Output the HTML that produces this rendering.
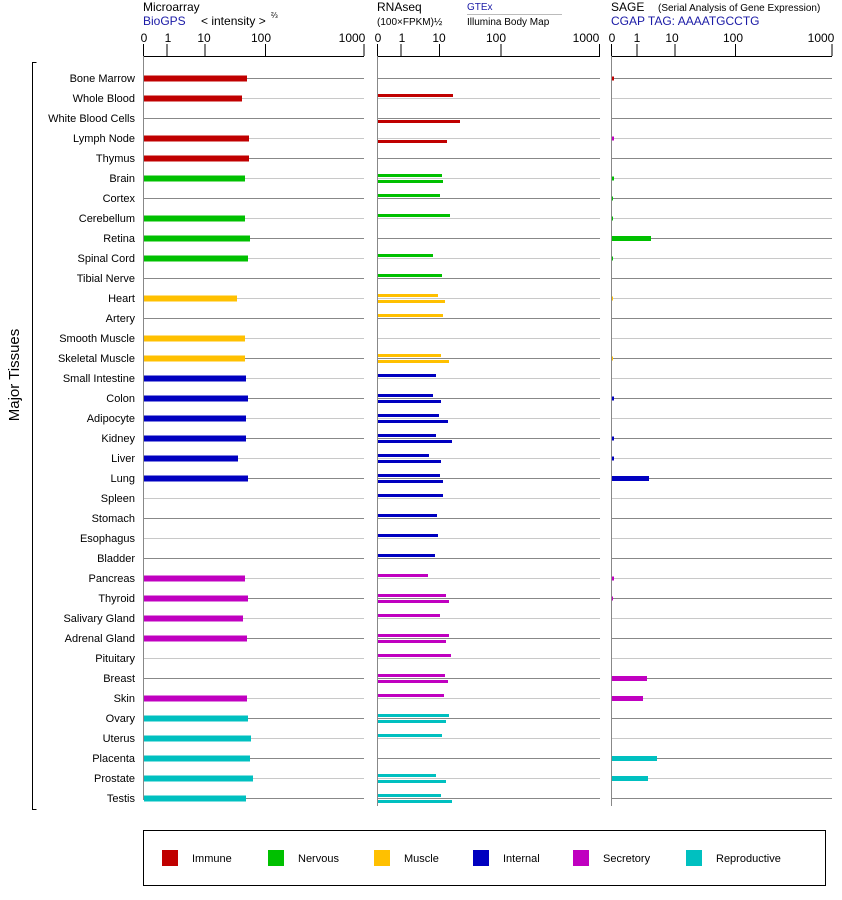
<!DOCTYPE html>
<html><head><meta charset="utf-8"><style>
html,body{margin:0;padding:0;background:#fff}
svg{display:block;font-family:"Liberation Sans",Arial,sans-serif}
</style></head><body>
<svg width="842" height="900" viewBox="0 0 842 900" xmlns="http://www.w3.org/2000/svg">
<!-- headers -->
<text x="143" y="11" font-size="12">Microarray</text>
<text x="143" y="25" font-size="12" fill="#1a1aa6">BioGPS</text>
<text x="201" y="25" font-size="12">&lt; intensity &gt;</text>
<text x="271" y="18" font-size="8">⅔</text>
<text x="377" y="11" font-size="12">RNAseq</text>
<text x="377" y="25" font-size="10">(100×FPKM)½</text>
<text x="467" y="10" font-size="10" fill="#1a1aa6">GTEx</text>
<line x1="467" y1="14.5" x2="562" y2="14.5" stroke="#bbb"/>
<text x="467" y="25" font-size="10">Illumina Body Map</text>
<text x="611" y="11" font-size="12">SAGE</text>
<text x="658" y="11" font-size="10">(Serial Analysis of Gene Expression)</text>
<text x="611" y="25" font-size="12" fill="#1a1aa6">CGAP TAG: AAAATGCCTG</text>

<!-- tick labels -->
<g font-size="12" text-anchor="middle">
<text x="144" y="42">0</text><text x="168" y="42">1</text><text x="204" y="42">10</text><text x="261" y="42">100</text><text x="352" y="42">1000</text>
<text x="378" y="42">0</text><text x="402" y="42">1</text><text x="439" y="42">10</text><text x="496" y="42">100</text><text x="586" y="42">1000</text>
<text x="612" y="42">0</text><text x="637" y="42">1</text><text x="672" y="42">10</text><text x="733" y="42">100</text><text x="821" y="42">1000</text>
</g>
<g stroke="#000" stroke-width="1">
<line x1="143.5" y1="44" x2="143.5" y2="56"/><line x1="167" y1="44" x2="167" y2="56"/><line x1="205" y1="44" x2="205" y2="56"/><line x1="265.5" y1="44" x2="265.5" y2="56"/><line x1="364" y1="44" x2="364" y2="56"/>
<line x1="143" y1="56.5" x2="364" y2="56.5"/>
<line x1="377.5" y1="44" x2="377.5" y2="56"/><line x1="401" y1="44" x2="401" y2="56"/><line x1="439.5" y1="44" x2="439.5" y2="56"/><line x1="501" y1="44" x2="501" y2="56"/><line x1="599.5" y1="44" x2="599.5" y2="56"/>
<line x1="377" y1="56.5" x2="600" y2="56.5"/>
<line x1="611.5" y1="44" x2="611.5" y2="56"/><line x1="637" y1="44" x2="637" y2="56"/><line x1="675" y1="44" x2="675" y2="56"/><line x1="735.5" y1="44" x2="735.5" y2="56"/><line x1="832" y1="44" x2="832" y2="56"/>
<line x1="611" y1="56.5" x2="832" y2="56.5"/>
</g>
<!-- vertical panel lines -->
<g stroke="#888">
<line x1="143.5" y1="56" x2="143.5" y2="800"/>
<line x1="377.5" y1="56" x2="377.5" y2="806"/>
<line x1="611.5" y1="56" x2="611.5" y2="806"/>
</g>

<!-- row grid lines: even dark, odd light -->
<g id="grid">
<g stroke="#888">
<path d="M144 78.5H364M378 78.5H600M612 78.5H832
M144 118.5H364M378 118.5H600M612 118.5H832
M144 158.5H364M378 158.5H600M612 158.5H832
M144 198.5H364M378 198.5H600M612 198.5H832
M144 238.5H364M378 238.5H600M612 238.5H832
M144 278.5H364M378 278.5H600M612 278.5H832
M144 318.5H364M378 318.5H600M612 318.5H832
M144 358.5H364M378 358.5H600M612 358.5H832
M144 398.5H364M378 398.5H600M612 398.5H832
M144 438.5H364M378 438.5H600M612 438.5H832
M144 478.5H364M378 478.5H600M612 478.5H832
M144 518.5H364M378 518.5H600M612 518.5H832
M144 558.5H364M378 558.5H600M612 558.5H832
M144 598.5H364M378 598.5H600M612 598.5H832
M144 638.5H364M378 638.5H600M612 638.5H832
M144 678.5H364M378 678.5H600M612 678.5H832
M144 718.5H364M378 718.5H600M612 718.5H832
M144 758.5H364M378 758.5H600M612 758.5H832
M144 798.5H364M378 798.5H600M612 798.5H832"/>
</g>
<g stroke="#c8c8c8">
<path d="M144 98.5H364M378 98.5H600M612 98.5H832
M144 138.5H364M378 138.5H600M612 138.5H832
M144 178.5H364M378 178.5H600M612 178.5H832
M144 218.5H364M378 218.5H600M612 218.5H832
M144 258.5H364M378 258.5H600M612 258.5H832
M144 298.5H364M378 298.5H600M612 298.5H832
M144 338.5H364M378 338.5H600M612 338.5H832
M144 378.5H364M378 378.5H600M612 378.5H832
M144 418.5H364M378 418.5H600M612 418.5H832
M144 458.5H364M378 458.5H600M612 458.5H832
M144 498.5H364M378 498.5H600M612 498.5H832
M144 538.5H364M378 538.5H600M612 538.5H832
M144 578.5H364M378 578.5H600M612 578.5H832
M144 618.5H364M378 618.5H600M612 618.5H832
M144 658.5H364M378 658.5H600M612 658.5H832
M144 698.5H364M378 698.5H600M612 698.5H832
M144 738.5H364M378 738.5H600M612 738.5H832
M144 778.5H364M378 778.5H600M612 778.5H832"/>
</g>
</g>

<!-- row labels -->
<g font-size="11" text-anchor="end">
<text x="135" y="82">Bone Marrow</text>
<text x="135" y="102">Whole Blood</text>
<text x="135" y="122">White Blood Cells</text>
<text x="135" y="142">Lymph Node</text>
<text x="135" y="162">Thymus</text>
<text x="135" y="182">Brain</text>
<text x="135" y="202">Cortex</text>
<text x="135" y="222">Cerebellum</text>
<text x="135" y="242">Retina</text>
<text x="135" y="262">Spinal Cord</text>
<text x="135" y="282">Tibial Nerve</text>
<text x="135" y="302">Heart</text>
<text x="135" y="322">Artery</text>
<text x="135" y="342">Smooth Muscle</text>
<text x="135" y="362">Skeletal Muscle</text>
<text x="135" y="382">Small Intestine</text>
<text x="135" y="402">Colon</text>
<text x="135" y="422">Adipocyte</text>
<text x="135" y="442">Kidney</text>
<text x="135" y="462">Liver</text>
<text x="135" y="482">Lung</text>
<text x="135" y="502">Spleen</text>
<text x="135" y="522">Stomach</text>
<text x="135" y="542">Esophagus</text>
<text x="135" y="562">Bladder</text>
<text x="135" y="582">Pancreas</text>
<text x="135" y="602">Thyroid</text>
<text x="135" y="622">Salivary Gland</text>
<text x="135" y="642">Adrenal Gland</text>
<text x="135" y="662">Pituitary</text>
<text x="135" y="682">Breast</text>
<text x="135" y="702">Skin</text>
<text x="135" y="722">Ovary</text>
<text x="135" y="742">Uterus</text>
<text x="135" y="762">Placenta</text>
<text x="135" y="782">Prostate</text>
<text x="135" y="802">Testis</text>
</g>

<!-- bracket + axis title -->
<path d="M36.5 62.5H32.5V809.5H36.5" fill="none" stroke="#000"/>
<text transform="translate(19,375) rotate(-90)" font-size="15" text-anchor="middle">Major Tissues</text>

<!-- microarray bars -->
<g>
<rect x="144" y="75.5" width="103" height="6" fill="#c00000"/>
<rect x="144" y="95.5" width="98" height="6" fill="#c00000"/>
<rect x="144" y="135.5" width="105" height="6" fill="#c00000"/>
<rect x="144" y="155.5" width="105" height="6" fill="#c00000"/>
<rect x="144" y="175.5" width="101" height="6" fill="#00c000"/>
<rect x="144" y="215.5" width="101" height="6" fill="#00c000"/>
<rect x="144" y="235.5" width="106" height="6" fill="#00c000"/>
<rect x="144" y="255.5" width="104" height="6" fill="#00c000"/>
<rect x="144" y="295.5" width="93" height="6" fill="#ffc000"/>
<rect x="144" y="335.5" width="101" height="6" fill="#ffc000"/>
<rect x="144" y="355.5" width="101" height="6" fill="#ffc000"/>
<rect x="144" y="375.5" width="102" height="6" fill="#0000c0"/>
<rect x="144" y="395.5" width="104" height="6" fill="#0000c0"/>
<rect x="144" y="415.5" width="102" height="6" fill="#0000c0"/>
<rect x="144" y="435.5" width="102" height="6" fill="#0000c0"/>
<rect x="144" y="455.5" width="94" height="6" fill="#0000c0"/>
<rect x="144" y="475.5" width="104" height="6" fill="#0000c0"/>
<rect x="144" y="575.5" width="101" height="6" fill="#c000c0"/>
<rect x="144" y="595.5" width="104" height="6" fill="#c000c0"/>
<rect x="144" y="615.5" width="99" height="6" fill="#c000c0"/>
<rect x="144" y="635.5" width="103" height="6" fill="#c000c0"/>
<rect x="144" y="695.5" width="103" height="6" fill="#c000c0"/>
<rect x="144" y="715.5" width="104" height="6" fill="#00c0c0"/>
<rect x="144" y="735.5" width="107" height="6" fill="#00c0c0"/>
<rect x="144" y="755.5" width="106" height="6" fill="#00c0c0"/>
<rect x="144" y="775.5" width="109" height="6" fill="#00c0c0"/>
<rect x="144" y="795.5" width="102" height="6" fill="#00c0c0"/>
</g>

<!-- RNAseq bars -->
<g>
<rect x="378" y="94" width="75" height="3" fill="#c00000"/>
<rect x="378" y="120" width="82" height="3" fill="#c00000"/>
<rect x="378" y="140" width="69" height="3" fill="#c00000"/>
<rect x="378" y="174" width="64" height="3" fill="#00c000"/>
<rect x="378" y="180" width="65" height="3" fill="#00c000"/>
<rect x="378" y="194" width="62" height="3" fill="#00c000"/>
<rect x="378" y="214" width="72" height="3" fill="#00c000"/>
<rect x="378" y="254" width="55" height="3" fill="#00c000"/>
<rect x="378" y="274" width="64" height="3" fill="#00c000"/>
<rect x="378" y="294" width="60" height="3" fill="#ffc000"/>
<rect x="378" y="300" width="67" height="3" fill="#ffc000"/>
<rect x="378" y="314" width="65" height="3" fill="#ffc000"/>
<rect x="378" y="354" width="63" height="3" fill="#ffc000"/>
<rect x="378" y="360" width="71" height="3" fill="#ffc000"/>
<rect x="378" y="374" width="58" height="3" fill="#0000c0"/>
<rect x="378" y="394" width="55" height="3" fill="#0000c0"/>
<rect x="378" y="400" width="63" height="3" fill="#0000c0"/>
<rect x="378" y="414" width="61" height="3" fill="#0000c0"/>
<rect x="378" y="420" width="70" height="3" fill="#0000c0"/>
<rect x="378" y="434" width="58" height="3" fill="#0000c0"/>
<rect x="378" y="440" width="74" height="3" fill="#0000c0"/>
<rect x="378" y="454" width="51" height="3" fill="#0000c0"/>
<rect x="378" y="460" width="63" height="3" fill="#0000c0"/>
<rect x="378" y="474" width="62" height="3" fill="#0000c0"/>
<rect x="378" y="480" width="65" height="3" fill="#0000c0"/>
<rect x="378" y="494" width="65" height="3" fill="#0000c0"/>
<rect x="378" y="514" width="59" height="3" fill="#0000c0"/>
<rect x="378" y="534" width="60" height="3" fill="#0000c0"/>
<rect x="378" y="554" width="57" height="3" fill="#0000c0"/>
<rect x="378" y="574" width="50" height="3" fill="#c000c0"/>
<rect x="378" y="594" width="68" height="3" fill="#c000c0"/>
<rect x="378" y="600" width="71" height="3" fill="#c000c0"/>
<rect x="378" y="614" width="62" height="3" fill="#c000c0"/>
<rect x="378" y="634" width="71" height="3" fill="#c000c0"/>
<rect x="378" y="640" width="68" height="3" fill="#c000c0"/>
<rect x="378" y="654" width="73" height="3" fill="#c000c0"/>
<rect x="378" y="674" width="67" height="3" fill="#c000c0"/>
<rect x="378" y="680" width="70" height="3" fill="#c000c0"/>
<rect x="378" y="694" width="66" height="3" fill="#c000c0"/>
<rect x="378" y="714" width="71" height="3" fill="#00c0c0"/>
<rect x="378" y="720" width="68" height="3" fill="#00c0c0"/>
<rect x="378" y="734" width="64" height="3" fill="#00c0c0"/>
<rect x="378" y="774" width="58" height="3" fill="#00c0c0"/>
<rect x="378" y="780" width="68" height="3" fill="#00c0c0"/>
<rect x="378" y="794" width="63" height="3" fill="#00c0c0"/>
<rect x="378" y="800" width="74" height="3" fill="#00c0c0"/>
</g>

<!-- SAGE bars -->
<g>
<rect x="612" y="76.5" width="2" height="4" fill="#c00000"/>
<rect x="612" y="136.5" width="2" height="4" fill="#c000c0"/>
<rect x="612" y="176.5" width="2" height="4" fill="#00c000"/>
<rect x="612" y="196.5" width="1" height="4" fill="#00c000"/>
<rect x="612" y="216.5" width="1" height="4" fill="#00c000"/>
<rect x="612" y="236" width="39" height="5" fill="#00c000"/>
<rect x="612" y="256.5" width="1" height="4" fill="#00c000"/>
<rect x="612" y="296.5" width="1" height="4" fill="#ffc000"/>
<rect x="612" y="356.5" width="1" height="4" fill="#ffc000"/>
<rect x="612" y="396.5" width="2" height="4" fill="#0000c0"/>
<rect x="612" y="436.5" width="2" height="4" fill="#0000c0"/>
<rect x="612" y="456.5" width="2" height="4" fill="#0000c0"/>
<rect x="612" y="476" width="37" height="5" fill="#0000c0"/>
<rect x="612" y="576.5" width="2" height="4" fill="#c000c0"/>
<rect x="612" y="596.5" width="1" height="4" fill="#c000c0"/>
<rect x="612" y="676" width="35" height="5" fill="#c000c0"/>
<rect x="612" y="696" width="31" height="5" fill="#c000c0"/>
<rect x="612" y="756" width="45" height="5" fill="#00c0c0"/>
<rect x="612" y="776" width="36" height="5" fill="#00c0c0"/>
</g>

<!-- legend -->
<rect x="143.5" y="830.5" width="682" height="55" fill="none" stroke="#000"/>
<g font-size="11">
<rect x="162" y="850" width="16" height="16" fill="#c00000"/><text x="192" y="862">Immune</text>
<rect x="268" y="850" width="16" height="16" fill="#00c000"/><text x="298" y="862">Nervous</text>
<rect x="374" y="850" width="16" height="16" fill="#ffc000"/><text x="404" y="862">Muscle</text>
<rect x="473" y="850" width="16" height="16" fill="#0000c0"/><text x="503" y="862">Internal</text>
<rect x="573" y="850" width="16" height="16" fill="#c000c0"/><text x="603" y="862">Secretory</text>
<rect x="686" y="850" width="16" height="16" fill="#00c0c0"/><text x="716" y="862">Reproductive</text>
</g>
</svg>
</body></html>
